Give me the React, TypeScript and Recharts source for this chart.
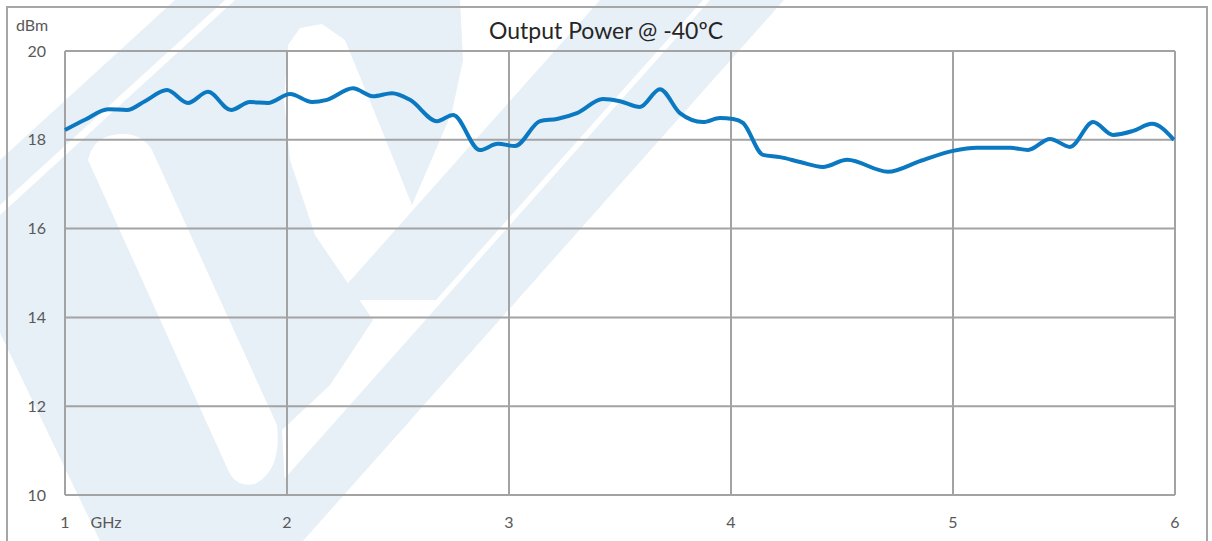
import React from "react";
import { LineChart, Line, XAxis, YAxis, CartesianGrid } from "recharts";

const frequencyGHz = [
  1.0, 1.09, 1.194, 1.279, 1.36, 1.459, 1.554, 1.644, 1.748, 1.833, 1.914, 2.014, 2.113, 2.18,
  2.297, 2.387, 2.473, 2.554, 2.676, 2.748, 2.869, 2.95, 3.027, 3.14, 3.216, 3.306, 3.423, 3.5,
  3.59, 3.68, 3.77, 3.874, 3.95, 4.009, 4.054, 4.144, 4.221, 4.311, 4.414, 4.523, 4.707, 4.851,
  5.0, 5.108, 5.257, 5.338, 5.437, 5.527, 5.631, 5.721, 5.811, 5.896, 5.995,
];
const outputPowerDbm = [
  18.22, 18.45, 18.69, 18.67, 18.87, 19.12, 18.83, 19.08, 18.67, 18.85, 18.83, 19.03, 18.85, 18.9,
  19.16, 18.98, 19.05, 18.9, 18.42, 18.56, 17.77, 17.91, 17.86, 18.42, 18.47, 18.6, 18.92, 18.87,
  18.74, 19.14, 18.6, 18.4, 18.49, 18.47, 18.38, 17.66, 17.61, 17.5, 17.39, 17.55, 17.28, 17.52,
  17.75, 17.82, 17.82, 17.77, 18.02, 17.84, 18.4, 18.11, 18.2, 18.36, 18.0,
];
const xTicks = [1, 2, 3, 4, 5, 6];
const yTicks = [10, 12, 14, 16, 18, 20];
const titleText = "Output Power @ -40ºC";
const yUnit = "dBm";
const xUnit = "GHz";

const data = frequencyGHz.map((f, i) => ({ f, p: outputPowerDbm[i] }));

const FONT = "Lato, 'Open Sans', sans-serif";
const WM = "#e7eff7";

function XTick(props: any) {
  const { x, y, payload } = props;
  return (
    <g>
      <text x={x} y={y} dy={12} textAnchor="middle" fill="#595959" fontSize={16} fontFamily={FONT}>
        {payload.value}
      </text>
      {payload.value === 1 && (
        <text x={x + 41} y={y} dy={12} textAnchor="middle" fill="#595959" fontSize={16} fontFamily={FONT}>
          {xUnit}
        </text>
      )}
    </g>
  );
}

function Watermark() {
  return (
    <svg width={1212} height={541} style={{ position: "absolute", left: 0, top: 0 }}>
      <g fill={WM} strokeLinejoin="round">
        <polygon points="175,0 225,0 0,205 0,160" />
        <polygon points="710,0 784,0 303,541 229,541" />
        <polygon points="600,0 703,0 436,300 333,300" />
        <polygon points="0,215 235,0 460,0 463,60 452,112 412,205 383,133 345,40 322,24 300,28 288,45 284,100 290,160 315,235 373,320 330,385 282,430 288,541 100,541 0,333" />
      </g>
      <path
        fill="#ffffff"
        d="M88,160 Q92,140 112,135 Q140,130 152,150 L277,425 Q282,470 255,484 Q236,488 228,470 Z"
      />
    </svg>
  );
}

export default function App() {
  return (
    <div style={{ position: "absolute", left: 0, top: 0, width: 1212, height: 541, overflow: "hidden", background: "#fff" }}>
      <Watermark />
      <div
        style={{
          position: "absolute",
          left: 6,
          top: 6,
          width: 1198,
          height: 600,
          border: "2px solid #a6a6a6",
        }}
      />
      <div style={{ position: "absolute", left: 0, top: 0 }}>
        <LineChart width={1212} height={541} data={data} margin={{ top: 51, right: 37, bottom: 0, left: 25 }}>
          <CartesianGrid stroke="#a3a3a3" strokeWidth={2} />
          <XAxis
            dataKey="f"
            type="number"
            domain={[1, 6]}
            ticks={xTicks}
            axisLine={false}
            tickLine={false}
            tickSize={0}
            tickMargin={21}
            height={46}
            tick={<XTick />}
            interval={0}
          />
          <YAxis
            type="number"
            domain={[10, 20]}
            ticks={yTicks}
            axisLine={false}
            tickLine={false}
            tickSize={0}
            tickMargin={19}
            width={40}
            interval={0}
            tick={{ fill: "#595959", fontSize: 16, fontFamily: FONT }}
          />
          <Line
            type="monotone"
            dataKey="p"
            stroke="#0b78c2"
            strokeWidth={4}
            dot={false}
            isAnimationActive={false}
          />
        </LineChart>
      </div>
      <svg width={1212} height={541} style={{ position: "absolute", left: 0, top: 0, pointerEvents: "none" }}>
        <text x={606} y={39} textAnchor="middle" fill="#262626" fontSize={23} fontFamily={FONT}>
          {titleText}
        </text>
        <text x={16} y={31} fill="#595959" fontSize={16} fontFamily={FONT}>
          {yUnit}
        </text>
      </svg>
    </div>
  );
}
